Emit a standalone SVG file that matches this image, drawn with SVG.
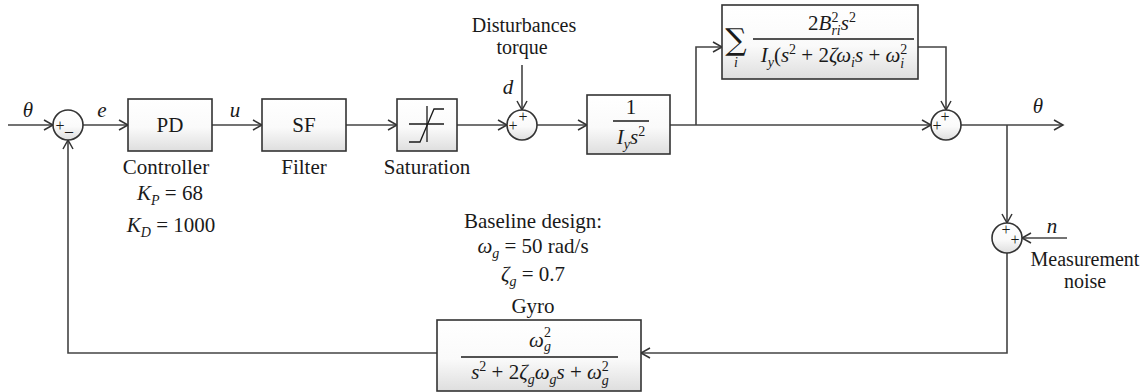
<svg xmlns="http://www.w3.org/2000/svg" width="1146" height="392" viewBox="0 0 1146 392">
<style>
.t{font-family:"Liberation Serif",serif;font-size:21px;fill:#1a1a1a}
.i{font-style:italic}
.m{text-anchor:middle}
.sm{font-size:14px}
.pl{font-family:"Liberation Serif",serif;font-size:16px;fill:#1a1a1a;text-anchor:middle}
.box{fill:url(#g);stroke:#333;stroke-width:1.6}
.sum{fill:url(#g);stroke:#333;stroke-width:1.6}
.ln{fill:none;stroke:#444;stroke-width:1.6}
.bar{stroke:#1a1a1a;stroke-width:1.6}
</style>
<defs>
<linearGradient id="g" x1="0" y1="0" x2="0" y2="1">
<stop offset="0" stop-color="#ffffff"/>
<stop offset="0.55" stop-color="#fafafa"/>
<stop offset="1" stop-color="#dedede"/>
</linearGradient>
<marker id="a" markerUnits="userSpaceOnUse" markerWidth="12" markerHeight="12" refX="10" refY="6" orient="auto">
<path d="M1,1 L10,6 L1,11" fill="none" stroke="#333" stroke-width="1.5"/>
</marker>
</defs>

<g id="connectors">
<path class="ln" d="M8,125 H53" marker-end="url(#a)"/>
<path class="ln" d="M83,125 H128" marker-end="url(#a)"/>
<path class="ln" d="M212,125 H262" marker-end="url(#a)"/>
<path class="ln" d="M346,125 H397" marker-end="url(#a)"/>
<path class="ln" d="M457,125 H507" marker-end="url(#a)"/>
<path class="ln" d="M537,125 H587" marker-end="url(#a)"/>
<path class="ln" d="M670,125 H931" marker-end="url(#a)"/>
<path class="ln" d="M696,125 V47 H722" marker-end="url(#a)"/>
<path class="ln" d="M918,47 H946 V110" marker-end="url(#a)"/>
<path class="ln" d="M522,65 V110" marker-end="url(#a)"/>
<path class="ln" d="M961,125 H1063" marker-end="url(#a)"/>
<path class="ln" d="M1007,125 V223" marker-end="url(#a)"/>
<path class="ln" d="M1067,238 H1022" marker-end="url(#a)"/>
<path class="ln" d="M1007,253 V353 H641" marker-end="url(#a)"/>
<path class="ln" d="M437,353 H68 V140" marker-end="url(#a)"/>
<text class="t i" x="28" y="117" text-anchor="middle">θ</text>
<text class="t i" x="102" y="117" text-anchor="middle">e</text>
<text class="t i" x="235" y="117" text-anchor="middle">u</text>
<text class="t i" x="508" y="94" text-anchor="middle">d</text>
<text class="t i" x="1038" y="113" text-anchor="middle">θ</text>
<text class="t i" x="1052" y="233" text-anchor="middle">n</text>
</g>

<g id="sum1">
<circle class="sum" cx="68" cy="125" r="15"/>
<text class="pl" x="60" y="131">+</text>
<text class="pl" x="69" y="131">_</text>
</g>

<g id="pd">
<rect class="box" x="128" y="99" width="84" height="52"/>
<text class="t m" x="170" y="132">PD</text>
<text class="t m" x="166" y="174">Controller</text>
<text class="t m" x="170" y="200"><tspan class="i">K</tspan><tspan class="i sm" dy="5">P</tspan><tspan dy="-5"> = 68</tspan></text>
<text class="t m" x="171" y="232"><tspan class="i">K</tspan><tspan class="i sm" dy="5">D</tspan><tspan dy="-5"> = 1000</tspan></text>
</g>

<g id="sf">
<rect class="box" x="262" y="99" width="84" height="52"/>
<text class="t m" x="304" y="132">SF</text>
<text class="t m" x="304" y="174">Filter</text>
</g>

<g id="saturation">
<rect class="box" x="397" y="99" width="60" height="52"/>
<path d="M409,124 H444 M427,106 V142" stroke="#1a1a1a" stroke-width="1.3" fill="none"/>
<path d="M409,142 H420 L434,109 H444" stroke="#1a1a1a" stroke-width="1.3" fill="none"/>
<text class="t m" x="427" y="174">Saturation</text>
</g>

<g id="disturbance">
<text class="t m" x="524" y="32" style="font-size:20px">Disturbances</text>
<text class="t m" x="522" y="54" style="font-size:20px">torque</text>
</g>

<g id="sum2">
<circle class="sum" cx="522" cy="125" r="15"/>
<text class="pl" x="513" y="131">+</text>
<text class="pl" x="523" y="122">+</text>
</g>

<g id="plant">
<rect class="box" x="587" y="95" width="83" height="59"/>
<text class="t m" x="631" y="114">1</text>
<line class="bar" x1="613" y1="121" x2="649" y2="121"/>
<text class="t m" x="631" y="144"><tspan class="i">I</tspan><tspan class="i sm" dy="5">y</tspan><tspan class="i" dy="-5">s</tspan><tspan class="sm" dy="-8">2</tspan></text>
</g>

<g id="flex">
<rect class="box" x="722" y="5" width="196" height="74"/>
<text x="736" y="50" style="font-family:'DejaVu Serif',serif;font-size:30px;fill:#1a1a1a" text-anchor="middle">∑</text>
<text class="t i sm m" x="736" y="67">i</text>
<text class="t m" x="832" y="30">2<tspan class="i">B</tspan><tspan class="sm" dy="-8">2</tspan><tspan class="i sm" dx="-7" dy="13">ri</tspan><tspan class="i" dy="-5">s</tspan><tspan class="sm" dy="-8">2</tspan></text>
<line class="bar" x1="753" y1="39" x2="914" y2="39"/>
<text class="t m" x="834" y="62"><tspan class="i">I</tspan><tspan class="i sm" dy="5">y</tspan><tspan dy="-5">(</tspan><tspan class="i">s</tspan><tspan class="sm" dy="-8">2</tspan><tspan dy="8"> + 2</tspan><tspan class="i">ζω</tspan><tspan class="i sm" dy="5">i</tspan><tspan class="i" dy="-5">s</tspan><tspan> + </tspan><tspan class="i">ω</tspan><tspan class="sm" dy="-8">2</tspan><tspan class="i sm" dx="-7" dy="14">i</tspan></text>
</g>

<g id="sum3">
<circle class="sum" cx="946" cy="125" r="15"/>
<text class="pl" x="937" y="131">+</text>
<text class="pl" x="945" y="122">+</text>
</g>

<g id="sum4">
<circle class="sum" cx="1007" cy="238" r="15"/>
<text class="pl" x="1006" y="235">+</text>
<text class="pl" x="1015" y="245">+</text>
<text class="t m" x="1085" y="266" style="font-size:20px">Measurement</text>
<text class="t m" x="1085" y="288" style="font-size:20px">noise</text>
</g>

<g id="gyro">
<text class="t m" x="533" y="228">Baseline design:</text>
<text class="t m" x="533" y="253"><tspan class="i">ω</tspan><tspan class="i sm" dy="5">g</tspan><tspan dy="-5"> = 50 rad/s</tspan></text>
<text class="t m" x="533" y="281"><tspan class="i">ζ</tspan><tspan class="i sm" dy="5">g</tspan><tspan dy="-5"> = 0.7</tspan></text>
<text class="t m" x="533" y="313">Gyro</text>
<rect class="box" x="437" y="320" width="204" height="71"/>
<text class="t m" x="540" y="347"><tspan class="i">ω</tspan><tspan class="sm" dy="-10">2</tspan><tspan class="i sm" dx="-7" dy="14">g</tspan></text>
<line class="bar" x1="461" y1="357" x2="618" y2="357"/>
<text class="t m" x="540" y="379"><tspan class="i">s</tspan><tspan class="sm" dy="-8">2</tspan><tspan dy="8"> + 2</tspan><tspan class="i">ζ</tspan><tspan class="i sm" dy="5">g</tspan><tspan class="i" dy="-5">ω</tspan><tspan class="i sm" dy="5">g</tspan><tspan class="i" dy="-5">s</tspan><tspan> + </tspan><tspan class="i">ω</tspan><tspan class="sm" dy="-8">2</tspan><tspan class="i sm" dx="-7" dy="14">g</tspan></text>
</g>
</svg>
